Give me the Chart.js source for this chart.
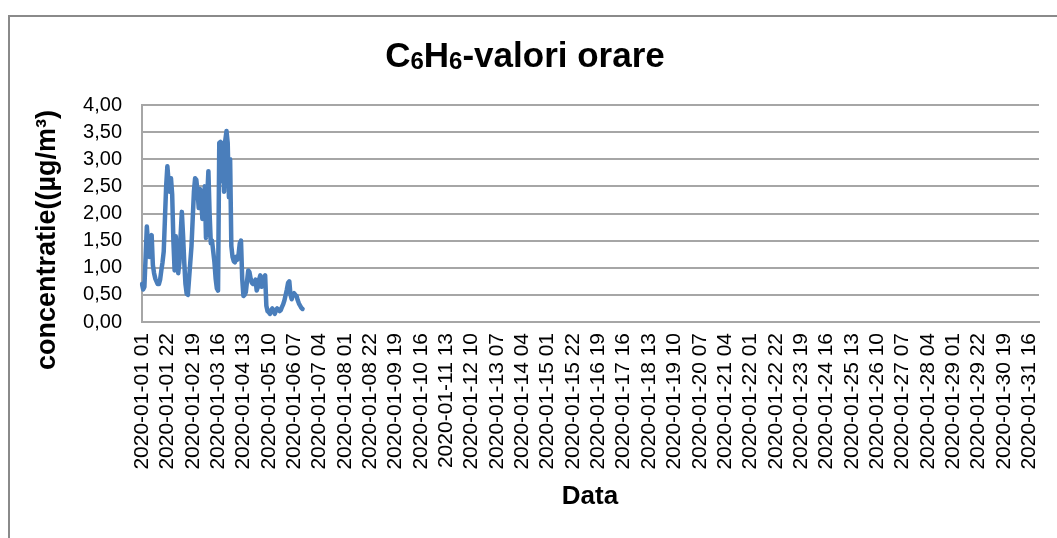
<!DOCTYPE html>
<html>
<head>
<meta charset="utf-8">
<script src="https://cdn.jsdelivr.net/npm/chart.js@4"></script>
<style>
  html, body { margin: 0; padding: 0; background: #fff; }
</style>
</head>
<body>
<canvas id="grafic" width="1057" height="538"></canvas>
<script>
// valori orare C6H6 (µg/m3), incepand cu 2020-01-01 01
const valori = [
  0.70, 0.60, 0.65, 1.20, 1.76, 1.45, 1.20, 1.55, 1.60, 1.05,
  0.90, 0.80, 0.75, 0.70, 0.70, 0.78, 0.95, 1.10, 1.30, 1.90,
  2.50, 2.87, 2.60, 2.40, 2.65, 2.35, 1.50, 0.95, 1.58, 1.20,
  0.90, 1.10, 1.60, 2.03, 1.60, 1.10, 0.70, 0.52, 0.50, 0.80,
  1.10, 1.40, 1.90, 2.40, 2.65, 2.62, 2.40, 2.10, 2.45, 2.30,
  1.90, 2.20, 2.50, 1.55, 2.30, 2.78, 2.00, 1.45, 1.50, 1.30,
  1.10, 0.80, 0.62, 0.58, 3.30, 3.32, 2.60, 3.30, 2.40, 3.35,
  3.52, 3.30, 2.30, 3.00, 1.40, 1.20, 1.12, 1.10, 1.20, 1.15,
  1.25, 1.45, 1.50, 0.80, 0.48, 0.50, 0.55, 0.75, 0.95, 0.92,
  0.80, 0.72, 0.70, 0.72, 0.78, 0.58, 0.65, 0.78, 0.86, 0.65,
  0.70, 0.80, 0.86, 0.30, 0.20, 0.18, 0.15, 0.22, 0.25, 0.20,
  0.15, 0.22, 0.25, 0.22, 0.20, 0.22, 0.28, 0.33, 0.40, 0.50,
  0.60, 0.72, 0.75, 0.50, 0.42, 0.50, 0.53, 0.50, 0.48, 0.40,
  0.34, 0.30, 0.26, 0.24
];

const luna = '2020-01';
const nrZile = 31;
const oreZi = 24;
const pasEticheta = 21;
const eticheteY = ['0,00', '0,50', '1,00', '1,50', '2,00', '2,50', '3,00', '3,50', '4,00'];

// categorii: fiecare ora din ianuarie, ore 01..24
const categorii = [];
for (let z = 1; z <= nrZile; z++) {
  for (let h = 1; h <= oreZi; h++) {
    categorii.push(luna + '-' + String(z).padStart(2, '0') + ' ' + String(h).padStart(2, '0'));
  }
}

const FONT = "'Liberation Sans', Arial, sans-serif";

// fundal, chenar si titluri
const decor = {
  id: 'decor',
  beforeDraw(chart) {
    const ctx = chart.ctx;
    ctx.save();
    ctx.fillStyle = '#ffffff';
    ctx.fillRect(0, 0, chart.width, chart.height);
    ctx.restore();
  },
  afterDraw(chart) {
    const ctx = chart.ctx;
    ctx.save();
    ctx.strokeStyle = '#8a8a8a';
    ctx.lineWidth = 2;
    ctx.strokeRect(9, 16, chart.width + 20, chart.height + 20);

    // titlu cu indici mai mici
    const parti = [['C', 1], ['6', 0.68], ['H', 1], ['6', 0.68], ['-valori orare', 1]];
    const marime = 35;
    let latime = 0;
    parti.forEach(p => {
      ctx.font = 'bold ' + Math.round(marime * p[1]) + 'px ' + FONT;
      latime += ctx.measureText(p[0]).width;
    });
    let x = 525 - latime / 2;
    ctx.fillStyle = '#000000';
    ctx.textBaseline = 'alphabetic';
    ctx.textAlign = 'left';
    parti.forEach(p => {
      ctx.font = 'bold ' + Math.round(marime * p[1]) + 'px ' + FONT;
      ctx.fillText(p[0], x, p[1] < 1 ? 69 : 67);
      x += ctx.measureText(p[0]).width;
    });

    // titlu axa X
    ctx.font = 'bold 26px ' + FONT;
    ctx.textAlign = 'center';
    ctx.textBaseline = 'middle';
    ctx.fillText('Data', 590, 497);

    // titlu axa Y
    ctx.font = 'bold 27px ' + FONT;
    ctx.translate(48, 240);
    ctx.rotate(-Math.PI / 2);
    ctx.fillText('concentratie((µg/m³)', 0, 0);
    ctx.restore();
  }
};

new Chart(document.getElementById('grafic'), {
  type: 'line',
  data: {
    labels: categorii,
    datasets: [{
      label: 'C6H6',
      data: valori,
      borderColor: '#4a7ebb',
      borderWidth: 4.5,
      borderJoinStyle: 'round',
      borderCapStyle: 'round',
      pointRadius: 0,
      tension: 0,
      fill: false
    }]
  },
  options: {
    responsive: false,
    animation: false,
    layout: { padding: { left: 0, top: 105, right: 18, bottom: 0 } },
    plugins: {
      legend: { display: false },
      tooltip: { enabled: false }
    },
    scales: {
      x: {
        offset: false,
        grid: { display: false, drawTicks: false },
        border: { display: true, color: '#a6a6a6', width: 2 },
        ticks: {
          autoSkip: false,
          minRotation: 90,
          maxRotation: 90,
          padding: 11,
          color: '#000000',
          font: { family: FONT, size: 21 }
        },
        afterBuildTicks(scale) {
          scale.ticks = scale.ticks.filter(t => t.value % pasEticheta === 0);
        },
        afterFit(scale) {
          scale.height = 538 - 322;
          scale.paddingLeft = 0;
          scale.paddingRight = 0;
        }
      },
      y: {
        min: 0,
        max: 4,
        grid: { color: '#a6a6a6', lineWidth: 2, drawTicks: false },
        border: { display: true, color: '#a6a6a6', width: 2 },
        ticks: {
          stepSize: 0.5,
          padding: 20,
          color: '#000000',
          font: { family: FONT, size: 20 },
          callback: (v, i) => eticheteY[i]
        },
        afterFit(scale) {
          scale.width = 142;
        }
      }
    }
  },
  plugins: [decor]
});
</script>
</body>
</html>
